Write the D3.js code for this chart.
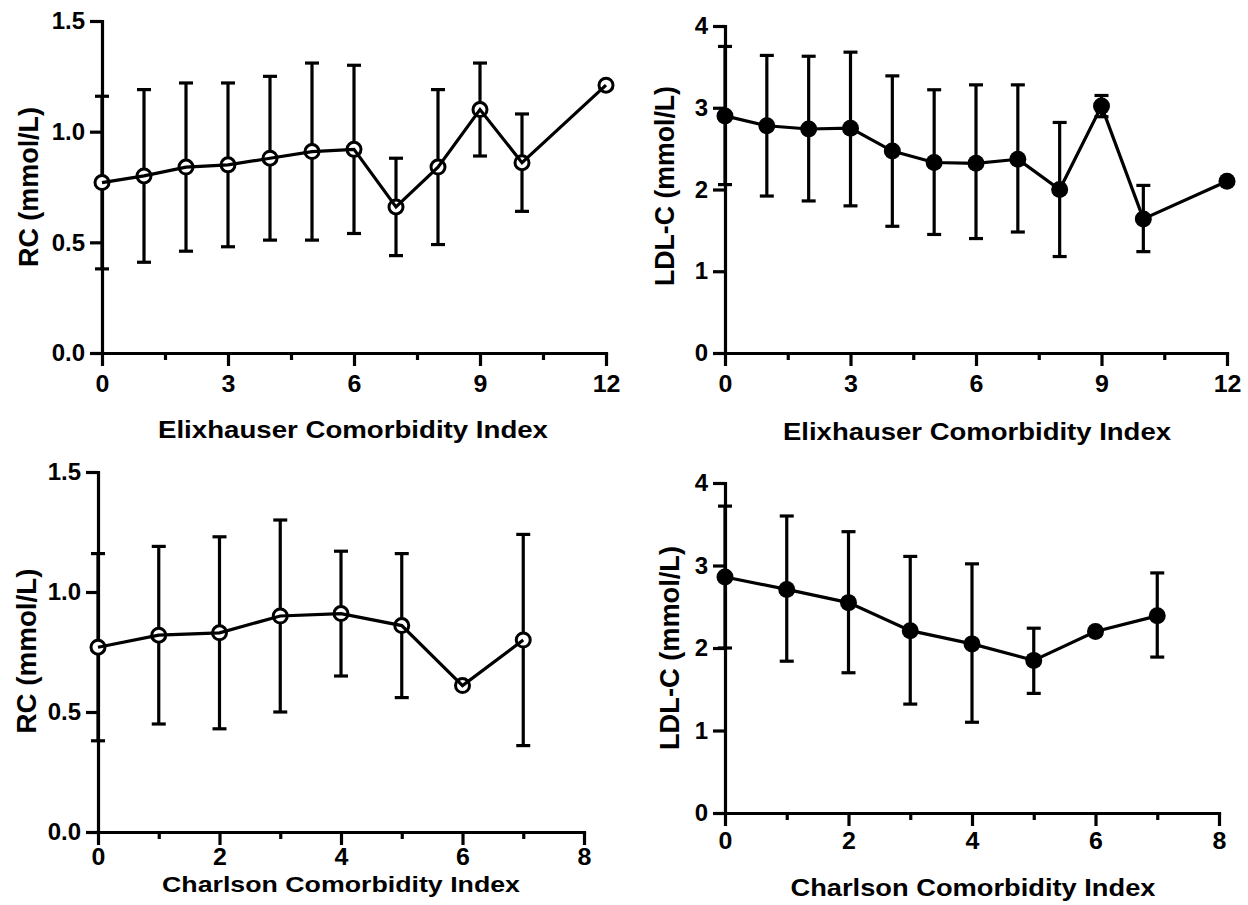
<!DOCTYPE html>
<html>
<head>
<meta charset="utf-8">
<script src="https://cdn.jsdelivr.net/npm/d3@7"></script>
<style>
  html, body { margin: 0; padding: 0; background: #fff; }
  svg { display: block; }
  text { font-family: "Liberation Sans", Arial, sans-serif; font-weight: bold; fill: #000; }
</style>
</head>
<body>
<svg id="chart" width="1248" height="905"></svg>
<script>
// ---- Data ----
const elixX = [0, 1, 2, 3, 4, 5, 6, 7, 8, 9, 10, 12];
const elixRC = [0.77, 0.80, 0.84, 0.85, 0.88, 0.91, 0.92, 0.66, 0.84, 1.10, 0.86, 1.21];
const elixRCUpper = [1.16, 1.19, 1.22, 1.22, 1.25, 1.31, 1.30, 0.88, 1.19, 1.31, 1.08, null];
const elixRCLower = [0.38, 0.41, 0.46, 0.48, 0.51, 0.51, 0.54, 0.44, 0.49, 0.89, 0.64, null];
const elixLDL = [2.90, 2.78, 2.74, 2.75, 2.47, 2.33, 2.32, 2.37, 2.00, 3.02, 1.64, 2.10];
const elixLDLUpper = [3.75, 3.64, 3.63, 3.68, 3.39, 3.22, 3.28, 3.28, 2.82, 3.15, 2.05, null];
const elixLDLLower = [2.06, 1.92, 1.86, 1.80, 1.55, 1.45, 1.40, 1.48, 1.18, 2.89, 1.24, null];

const charlX = [0, 1, 2, 3, 4, 5, 6, 7];
const charlRC = [0.77, 0.82, 0.83, 0.90, 0.91, 0.86, 0.61, 0.80];
const charlRCUpper = [1.16, 1.19, 1.23, 1.30, 1.17, 1.16, null, 1.24];
const charlRCLower = [0.38, 0.45, 0.43, 0.50, 0.65, 0.56, null, 0.36];
const charlLDL = [2.86, 2.71, 2.55, 2.21, 2.05, 1.85, 2.20, 2.39];
const charlLDLUpper = [3.72, 3.60, 3.41, 3.11, 3.02, 2.24, null, 2.91];
const charlLDLLower = [2.00, 1.84, 1.70, 1.32, 1.10, 1.45, null, 1.89];

const elixTicks = [0, 3, 6, 9, 12];
const elixMinorTicks = [1.5, 4.5, 7.5, 10.5];
const charlTicks = [0, 2, 4, 6, 8];
const charlMinorTicks = [1, 3, 5, 7];
const rcTicks = [0, 0.5, 1.0, 1.5];
const ldlTicks = [0, 1, 2, 3, 4];

const elixTitle = "Elixhauser Comorbidity Index";
const charlTitle = "Charlson Comorbidity Index";
const rcTitle = "RC (mmol/L)";
const ldlTitle = "LDL-C (mmol/L)";

// ---- Drawing ----
const svg = d3.select("#chart");
const SW = 3.2;

function fitText(sel, len) {
  sel.attr("textLength", len).attr("lengthAdjust", "spacingAndGlyphs");
}

function panel(c) {
  const g = svg.append("g");
  const x = d3.scaleLinear().domain(c.xDomain).range([c.left, c.right]);
  const y = d3.scaleLinear().domain(c.yDomain).range([c.bottom, c.top]);

  const xa = g.append("g").attr("transform", `translate(0,${c.bottom})`)
    .call(d3.axisBottom(x).tickValues(c.xTicks).tickSize(13).tickPadding(c.xPad).tickSizeOuter(0).tickFormat(d3.format("d")));
  const xm = g.append("g").attr("transform", `translate(0,${c.bottom})`)
    .call(d3.axisBottom(x).tickValues(c.xMinor).tickSize(7).tickFormat(""));
  xm.select(".domain").remove();
  const ya = g.append("g").attr("transform", `translate(${c.left},0)`)
    .call(d3.axisLeft(y).tickValues(c.yTicks).tickSize(12).tickPadding(5).tickSizeOuter(0).tickFormat(c.yFormat));

  [xa, xm, ya].forEach(a => {
    a.selectAll(".domain").attr("stroke", "#000").attr("stroke-width", SW).attr("stroke-linecap", "square");
    a.selectAll(".tick line").attr("stroke", "#000").attr("stroke-width", SW);
    a.selectAll(".tick text").attr("font-size", 24).attr("font-family", "Liberation Sans, Arial, sans-serif")
      .attr("font-weight", "bold").attr("fill", "#000");
  });
  xa.selectAll(".tick text").each(function() {
    fitText(d3.select(this), this.getComputedTextLength() * 1.04);
  });

  // error bars
  const eb = g.append("g").attr("stroke", "#000").attr("stroke-width", SW).attr("fill", "none");
  c.xs.forEach((xv, i) => {
    if (c.upper[i] == null) return;
    const cx = x(xv), yu = y(c.upper[i]), yl = y(c.lower[i]);
    eb.append("line").attr("x1", cx).attr("x2", cx).attr("y1", yu).attr("y2", yl);
    eb.append("line").attr("x1", cx - 7).attr("x2", cx + 7).attr("y1", yu).attr("y2", yu);
    eb.append("line").attr("x1", cx - 7).attr("x2", cx + 7).attr("y1", yl).attr("y2", yl);
  });

  const pts = c.xs.map((xv, i) => [xv, c.means[i]]);
  const line = d3.line().x(d => x(d[0])).y(d => y(d[1]));

  if (c.filled) {
    g.append("path").attr("d", line(pts)).attr("fill", "none").attr("stroke", "#000").attr("stroke-width", SW);
    g.selectAll("circle.m").data(pts).enter().append("circle")
      .attr("cx", d => x(d[0])).attr("cy", d => y(d[1])).attr("r", 8.5).attr("fill", "#000");
  } else {
    g.selectAll("circle.m").data(pts).enter().append("circle")
      .attr("cx", d => x(d[0])).attr("cy", d => y(d[1])).attr("r", 7)
      .attr("fill", "#fff").attr("stroke", "#000").attr("stroke-width", 3);
    g.append("path").attr("d", line(pts)).attr("fill", "none").attr("stroke", "#000").attr("stroke-width", SW);
  }

  const xt = g.append("text").attr("x", c.xTitleX).attr("y", c.xTitleY)
    .attr("text-anchor", "middle").attr("dominant-baseline", "central").attr("font-size", c.xTitleSize).text(c.xTitle);
  fitText(xt, c.xTitleLen);
  const yt = g.append("text").attr("transform", `translate(${c.yTitleX},${c.yTitleY}) rotate(-90)`)
    .attr("text-anchor", "middle").attr("dominant-baseline", "central").attr("font-size", 28).text(c.yTitle);
  fitText(yt, c.yTitleLen);
}

panel({
  left: 102, right: 606, top: 21, bottom: 353,
  xDomain: [0, 12], yDomain: [0, 1.5],
  xTicks: elixTicks, xMinor: elixMinorTicks, yTicks: rcTicks, yFormat: d3.format(".1f"), xPad: 9,
  xs: elixX, means: elixRC, upper: elixRCUpper, lower: elixRCLower, filled: false,
  xTitle: elixTitle, xTitleX: 353, xTitleY: 429, xTitleLen: 390, xTitleSize: 24,
  yTitle: rcTitle, yTitleX: 28, yTitleY: 187, yTitleLen: 160
});
panel({
  left: 725, right: 1227, top: 26, bottom: 353,
  xDomain: [0, 12], yDomain: [0, 4],
  xTicks: elixTicks, xMinor: elixMinorTicks, yTicks: ldlTicks, yFormat: d3.format("d"), xPad: 9,
  xs: elixX, means: elixLDL, upper: elixLDLUpper, lower: elixLDLLower, filled: true,
  xTitle: elixTitle, xTitleX: 977, xTitleY: 431, xTitleLen: 388, xTitleSize: 24,
  yTitle: ldlTitle, yTitleX: 664, yTitleY: 186, yTitleLen: 200
});
panel({
  left: 98, right: 584, top: 472, bottom: 832,
  xDomain: [0, 8], yDomain: [0, 1.5],
  xTicks: charlTicks, xMinor: charlMinorTicks, yTicks: rcTicks, yFormat: d3.format(".1f"), xPad: 3,
  xs: charlX, means: charlRC, upper: charlRCUpper, lower: charlRCLower, filled: false,
  xTitle: charlTitle, xTitleX: 341, xTitleY: 884, xTitleLen: 358, xTitleSize: 22,
  yTitle: rcTitle, yTitleX: 26, yTitleY: 651, yTitleLen: 165
});
panel({
  left: 725, right: 1219, top: 483, bottom: 813,
  xDomain: [0, 8], yDomain: [0, 4],
  xTicks: charlTicks, xMinor: charlMinorTicks, yTicks: ldlTicks, yFormat: d3.format("d"), xPad: 6,
  xs: charlX, means: charlLDL, upper: charlLDLUpper, lower: charlLDLLower, filled: true,
  xTitle: charlTitle, xTitleX: 973, xTitleY: 887, xTitleLen: 365, xTitleSize: 24,
  yTitle: ldlTitle, yTitleX: 669, yTitleY: 648, yTitleLen: 204
});
</script>
</body>
</html>
